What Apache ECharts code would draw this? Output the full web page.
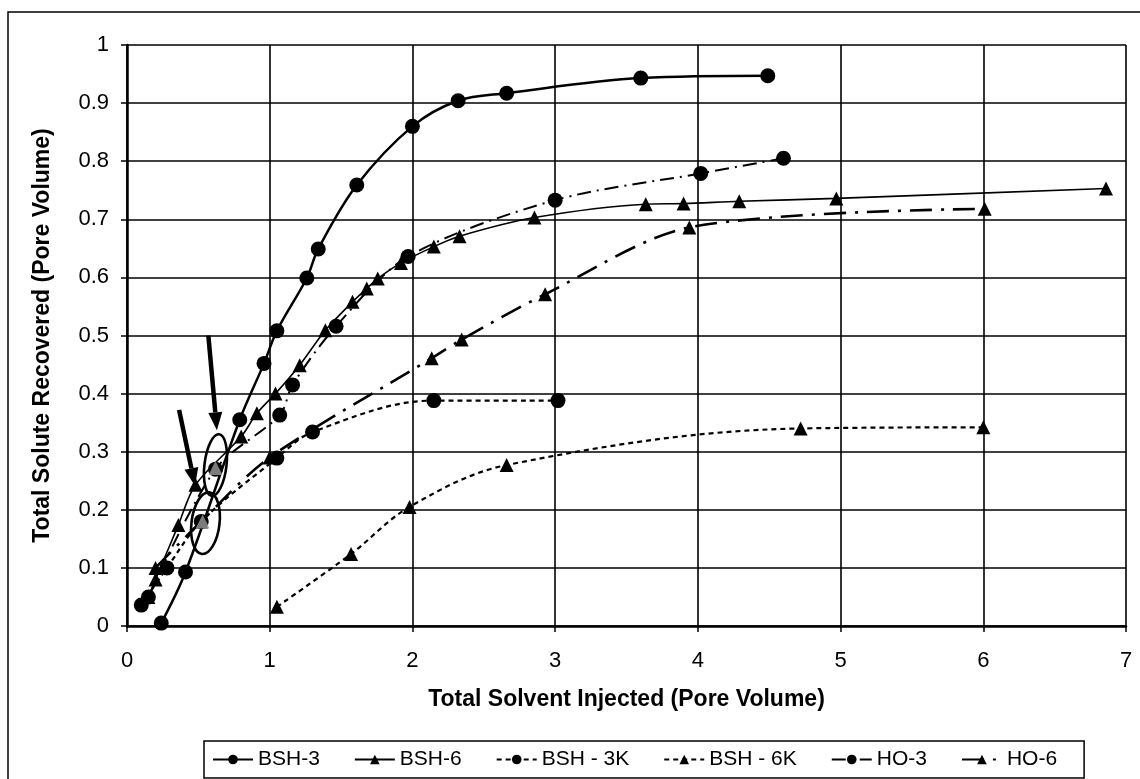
<!DOCTYPE html>
<html><head><meta charset="utf-8">
<script src="https://cdn.jsdelivr.net/npm/echarts@6/dist/echarts.min.js"></script>
<style>html,body{margin:0;padding:0;background:#fff}#c{width:1140px;height:779px}</style>
</head><body><div id="c"></div>
<script>
// ---- data (x = total solvent injected PV, y = total solute recovered PV) ----
const xTicks = [0, 1, 2, 3, 4, 5, 6, 7];
const yTicks = [0, 0.1, 0.2, 0.3, 0.4, 0.5, 0.6, 0.7, 0.8, 0.9, 1];
const seriesNames = ['BSH-3', 'BSH-6', 'BSH - 3K', 'BSH - 6K', 'HO-3', 'HO-6'];

const bsh3 = [[0.24,0.005],[0.41,0.093],[0.79,0.355],[0.96,0.452],[1.05,0.508],[1.26,0.599],[1.34,0.649],[1.61,0.759],[2.0,0.86],[2.32,0.904],[2.66,0.917],[3.6,0.943],[4.49,0.947]];
const bsh6 = [[0.15,0.05],[0.2,0.08],[0.36,0.174],[0.48,0.243],[0.8,0.326],[0.91,0.366],[1.04,0.40],[1.21,0.449],[1.39,0.509],[1.58,0.558],[1.68,0.581],[1.757,0.598],[1.92,0.625],[2.15,0.653],[2.33,0.671],[2.855,0.703],[3.635,0.726],[3.9,0.727],[4.29,0.731],[4.97,0.736],[6.86,0.753]];
const bsh3k = [[0.1,0.036],[0.28,0.1],[0.52,0.18],[1.05,0.289],[1.30,0.334],[2.15,0.388],[3.02,0.388]];
const bsh6k = [[1.05,0.033],[1.57,0.124],[1.98,0.205],[2.66,0.277],[4.72,0.34],[6.0,0.342]];
const ho3 = [[0.15,0.05],[0.62,0.27],[1.07,0.363],[1.16,0.415],[1.465,0.516],[1.97,0.636],[3.0,0.733],[4.02,0.779],[4.6,0.805]];
const ho6 = [[0.2,0.1],[0.52,0.18],[1.0,0.29],[2.135,0.461],[2.345,0.493],[2.93,0.571],[3.94,0.686],[6.01,0.718]];

// highlighted (shaded) points and annotation positions, in data units
const shadedPts = [[0.62,0.272],[0.53,0.18]];
const ellipseCenters = [[0.62,0.277],[0.55,0.177]];
const arrowStarts = [[0.57,0.5],[0.365,0.372]];
const arrowTips = [[0.63,0.337],[0.477,0.241]];

const chart = echarts.init(document.getElementById('c'), null, {renderer:'canvas'});
const FONT = 'Liberation Sans, Arial, sans-serif';

function line(name, data, symbol, lw, type, smooth){
  return {
    name, type:'line', data, symbol, symbolSize: symbol==='triangle'?14:15,
    smooth: smooth, showSymbol:true,
    lineStyle:{color:'#000', width:lw, type:type},
    itemStyle:{color:'#000'},
    emphasis:{disabled:true}, animation:false, z:3
  };
}

const option = {
  animation:false,
  backgroundColor:'#fff',
  grid:{left:127, right:14, top:45, bottom:153, containLabel:false},
  xAxis:{
    type:'value', min:xTicks[0], max:xTicks[xTicks.length-1], interval:1,
    name:'Total Solvent Injected (Pore Volume)', nameLocation:'middle', nameGap:62,
    nameTextStyle:{fontFamily:FONT, fontSize:23, fontWeight:'bold', color:'#000'},
    axisLine:{lineStyle:{color:'#000', width:2.5}},
    axisTick:{show:true, inside:false, length:6, lineStyle:{color:'#000', width:1.5}},
    axisLabel:{fontFamily:FONT, fontSize:22, color:'#000', margin:24},
    splitLine:{show:true, lineStyle:{color:'#000', width:1.6}}
  },
  yAxis:{
    type:'value', min:yTicks[0], max:yTicks[yTicks.length-1], interval:0.1,
    name:'Total Solute Recovered (Pore Volume)', nameLocation:'middle', nameGap:73,
    nameTextStyle:{fontFamily:FONT, fontSize:23, fontWeight:'bold', color:'#000'},
    axisLine:{lineStyle:{color:'#000', width:2.5}},
    axisTick:{show:true, inside:false, length:6, lineStyle:{color:'#000', width:1.5}},
    axisLabel:{fontFamily:FONT, fontSize:22, color:'#000', margin:18,
      formatter: v => String(+v.toFixed(1))},
    splitLine:{show:true, lineStyle:{color:'#000', width:1.6}}
  },
  legend:{
    data: seriesNames, left:204, top:741, orient:'horizontal',
    itemWidth:40, itemHeight:12, itemGap:34,
    padding:[8,27,8,8],
    borderColor:'#000', borderWidth:1.5, backgroundColor:'#fff',
    textStyle:{fontFamily:FONT, fontSize:21, color:'#000'},
    selectedMode:false
  },
  series:[
    line(seriesNames[0], bsh3, 'circle', 2.5, 'solid', 0.35),
    line(seriesNames[1], bsh6, 'triangle', 1.6, 'solid', 0.3),
    line(seriesNames[2], bsh3k, 'circle', 2.2, [5,4], 0.35),
    line(seriesNames[3], bsh6k, 'triangle', 2.2, [5,4], 0.35),
    line(seriesNames[4], ho3, 'circle', 2, [14,6,2,6], 0.3),
    line(seriesNames[5], ho6, 'triangle', 2.6, [22,9,3,9], 0.3),
    {name:'shaded', type:'scatter', data:shadedPts, symbol:'triangle', symbolSize:14,
     itemStyle:{color:'#9a9a9a'}, z:4, silent:true}
  ]
};
chart.setOption(option);

// annotations: ellipses and arrows positioned from data coordinates
const gfx = [];
ellipseCenters.forEach((c,i)=>{
  const p = chart.convertToPixel({gridIndex:0}, c);
  gfx.push({type:'ellipse', x:p[0], y:p[1], rotation:-0.12,
    shape:{cx:0, cy:0, rx: i===0?11:14, ry:31},
    style:{fill:null, stroke:'#000', lineWidth:2.6}, z:10});
});
arrowStarts.forEach((s,i)=>{
  const a = chart.convertToPixel({gridIndex:0}, s);
  const t = chart.convertToPixel({gridIndex:0}, arrowTips[i]);
  const dx=t[0]-a[0], dy=t[1]-a[1], L=Math.hypot(dx,dy);
  const ux=dx/L, uy=dy/L, nx=-uy, ny=ux, hl=18, hw=7;
  const bx=t[0]-ux*hl, by=t[1]-uy*hl;
  gfx.push({type:'line', shape:{x1:a[0],y1:a[1],x2:bx,y2:by}, style:{stroke:'#000', lineWidth:4.5}, z:10});
  gfx.push({type:'polygon', shape:{points:[[t[0],t[1]],[bx+nx*hw,by+ny*hw],[bx-nx*hw,by-ny*hw]]}, style:{fill:'#000'}, z:10});
});
// outer frame of the chart area
gfx.push({type:'rect', shape:{x:8, y:12, width:1200, height:900}, style:{fill:null, stroke:'#000', lineWidth:1.5}, z:0});
chart.setOption({graphic:gfx});
</script>
</body></html>
